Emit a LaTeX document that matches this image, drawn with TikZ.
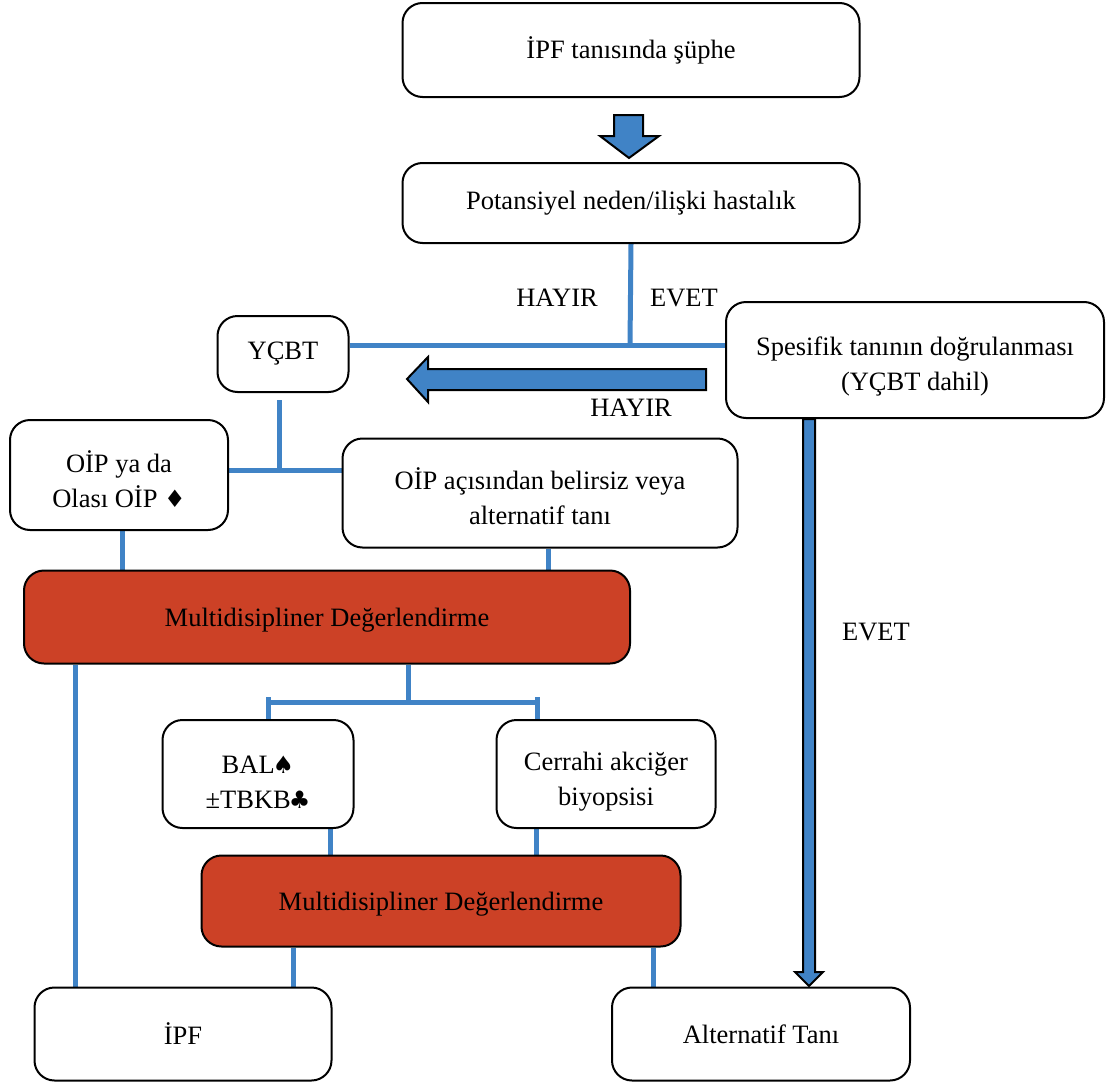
\documentclass[tikz,border=0pt]{standalone}
\usepackage{fontspec}
\setmainfont{Liberation Serif}
\newfontfamily\symfont{DejaVu Sans}
\usetikzlibrary{backgrounds}
\definecolor{linkblue}{RGB}{64,131,198}
\definecolor{mdred}{RGB}{204,65,38}
\newcommand{\suit}[1]{\hspace{-2pt}{\symfont\fontsize{24}{35}\selectfont #1}}
\tikzset{>=stealth,
  box/.style={draw, line width=2pt, rounded corners=20pt, fill=white, align=center,
    inner sep=0pt, font=\fontsize{26.5}{35}\selectfont},
  redbox/.style={box, fill=mdred},
  link/.style={draw=linkblue, line width=5pt},
  blockarrow/.style={draw=black, line width=2pt, fill=linkblue, line join=miter},
  lbl/.style={font=\fontsize{26.5}{35}\selectfont}}

\begin{document}
\begin{tikzpicture}[x=1pt,y=-1pt]
    \useasboundingbox (0,0) rectangle (1106,1084);
    % boxes
    \node[box, minimum width=457, minimum height=94] (suphe) at (631,50) {İPF tanısında şüphe};
    \node[box, minimum width=457, minimum height=80] (pot) at (631,203) {Potansiyel neden/ilişki hastalık};
    \node[box, minimum width=131, minimum height=76] (ycbt) at (283,354) {YÇBT};
    \node[box, minimum width=378, minimum height=116, text height=67pt] (spes) at (915,360) {Spesifik tanının doğrulanması\\(YÇBT dahil)};
    \node[box, minimum width=218, minimum height=110, text height=65pt] (oip) at (119,475) {OİP ya da\\Olası OİP \suit{\hspace{2pt}♦}};
    \node[box, minimum width=395, minimum height=109, text height=63pt] (belir) at (540,493) {OİP açısından belirsiz veya\\alternatif tanı};
    \node[redbox, minimum width=606, minimum height=93, text height=24pt] (mdd1) at (327,617) {Multidisipliner Değerlendirme};
    \node[box, minimum width=191, minimum height=108, text height=70pt] (bal) at (258,774) {BAL\suit{♠}\\±TBKB\suit{♣}};
    \node[box, minimum width=219, minimum height=108, text height=69pt] (cerr) at (606,774) {Cerrahi akciğer\\biyopsisi};
    \node[redbox, minimum width=479, minimum height=91, text height=24pt] (mdd2) at (441,901) {Multidisipliner Değerlendirme};
    \node[box, minimum width=297, minimum height=93] (ipf) at (183,1034) {İPF};
    \node[box, minimum width=298, minimum height=93] (alt) at (761,1034) {Alternatif Tanı};

    % labels
    \node[lbl] (hayir1) at (557,298) {HAYIR};
    \node[lbl] (evet1) at (684,298) {EVET};
    \node[lbl] (hayir2) at (631,408) {HAYIR};
    \node[lbl] (evet2) at (876,632) {EVET};

    % junctions
    \coordinate (j1) at (630,345);
    \coordinate (j2top) at (279,400);
    \coordinate (j2) at (279,470);
    \coordinate (br) at (408,702);
    \coordinate (bl) at (268,697);
    \coordinate (brr) at (537,697);
    \coordinate (c1) at (75,0);
    \coordinate (c2) at (330,0);
    \coordinate (c3) at (536,0);
    \coordinate (c4) at (293,0);
    \coordinate (c5) at (653,0);

    % blue links
    \begin{scope}[on background layer]
        \draw[link] (pot.south) -- (j1);
        \draw[link] (ycbt.east |- j1) -- (spes.west |- j1);
        \draw[link] (j2top) -- (j2);
        \draw[link] (oip.east |- j2) -- (belir.west |- j2);
        \draw[link] ([xshift=3pt]oip.south) -- ([xshift=3pt]oip.south |- mdd1.north);
        \draw[link] ([xshift=8pt]belir.south) -- ([xshift=8pt]belir.south |- mdd1.north);
        \draw[link] (mdd1.south -| c1) -- (ipf.north -| c1);
        \draw[link] (mdd1.south -| br) -- (br);
        \draw[link] ([yshift=-5pt]bl) -- ([yshift=-5pt]brr);
        \draw[link] (bl) -- (bal.north -| bl);
        \draw[link] (brr) -- (cerr.north -| brr);
        \draw[link] (bal.south -| c2) -- (mdd2.north -| c2);
        \draw[link] (cerr.south -| c3) -- (mdd2.north -| c3);
        \draw[link] (mdd2.south -| c4) -- (ipf.north -| c4);
        \draw[link] (mdd2.south -| c5) -- (alt.north -| c5);
    \end{scope}

    % block arrows
    \draw[blockarrow] (614,115) -- (643,115) -- (643,136) -- (659,136) -- (629,158) -- (600,136) -- (614,136) -- cycle;
    \draw[blockarrow] (706,369) -- (428,369) -- (428,357) -- (407,379) -- (428,402) -- (428,390) -- (706,390) -- cycle;
    \draw[blockarrow] (803,419) -- (815,419) -- (815,972) -- (823,972) -- (809,986) -- (795,972) -- (803,972) -- cycle;
\end{tikzpicture}
\end{document}
